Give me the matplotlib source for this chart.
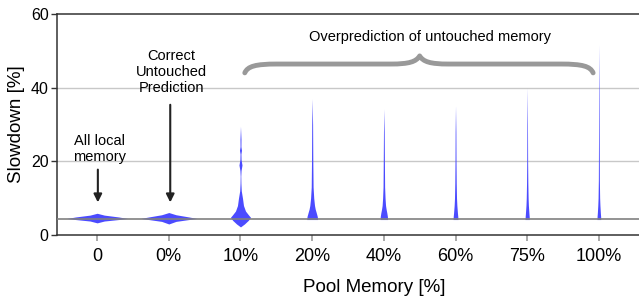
import matplotlib.pyplot as plt
import numpy as np
from matplotlib.path import Path
from matplotlib.patches import PathPatch

plt.rcParams['font.family'] = ['Liberation Sans', 'DejaVu Sans']

categories = ['0', '0%', '10%', '20%', '40%', '60%', '75%', '100%']

# violin outlines: slowdown levels and half widths (x units)
violin_y = [
    [3.3, 3.8, 4.2, 4.5, 4.9, 5.4, 5.9],
    [3.0, 3.7, 4.2, 4.5, 4.9, 5.5, 6.1],
    [2.2, 3.0, 4.0, 4.8, 5.5, 6.5, 8.0, 10.0, 12.0, 14.0, 16.0, 17.5, 19.0, 20.5,
     22.0, 23.0, 24.0, 26.0, 29.5],
    [4.2, 5.0, 6.0, 7.0, 8.0, 10.0, 13.0, 20.0, 30.0, 37.0],
    [4.2, 5.0, 6.0, 7.0, 8.0, 10.0, 13.0, 20.0, 28.0, 34.2],
    [4.2, 5.0, 6.0, 8.0, 10.0, 14.0, 20.0, 28.0, 35.0],
    [4.2, 5.0, 6.0, 8.0, 10.0, 14.0, 20.0, 30.0, 40.0],
    [4.2, 5.0, 6.0, 8.0, 10.0, 15.0, 25.0, 40.0, 51.6],
]
violin_w = [
    [0.0, 0.10, 0.30, 0.42, 0.30, 0.10, 0.0],
    [0.0, 0.10, 0.28, 0.39, 0.28, 0.10, 0.0],
    [0.0, 0.055, 0.11, 0.14, 0.11, 0.07, 0.042, 0.028, 0.011, 0.006, 0.004, 0.008,
     0.021, 0.008, 0.006, 0.014, 0.006, 0.007, 0.0],
    [0.075, 0.072, 0.058, 0.043, 0.033, 0.022, 0.013, 0.009, 0.006, 0.0],
    [0.052, 0.050, 0.042, 0.032, 0.024, 0.017, 0.011, 0.008, 0.005, 0.0],
    [0.034, 0.032, 0.027, 0.019, 0.014, 0.010, 0.007, 0.005, 0.0],
    [0.030, 0.028, 0.024, 0.017, 0.013, 0.009, 0.006, 0.004, 0.0],
    [0.026, 0.025, 0.021, 0.015, 0.011, 0.007, 0.005, 0.003, 0.0],
]
baseline = 4.3

fig = plt.figure(figsize=(6.39, 2.96), dpi=100)
ax = fig.add_axes([0.0892, 0.206, 0.9108, 0.747])

for i in range(len(categories)):
    y = np.array(violin_y[i])
    w = np.array(violin_w[i])
    ax.fill_betweenx(y, i - w, i + w, color='#4b4bff', lw=0, zorder=3)

ax.axhline(baseline, color='#808080', lw=1.2, zorder=4)
for g in [20, 40]:
    ax.axhline(g, color='#c8c8c8', lw=1, zorder=1)

ax.set_xlim(-0.56, 7.56)
ax.set_ylim(0, 60)
ax.set_xticks(range(len(categories)))
ax.set_xticklabels(categories, fontsize=13)
ax.set_yticks([0, 20, 40, 60])
ax.tick_params(axis='y', labelsize=11.5, length=4, width=1, color='#333333', pad=2)
ax.tick_params(axis='x', length=4, width=1.2, color='#999999', pad=5)
for s in ['left', 'bottom', 'top']:
    ax.spines[s].set_color('#333333')
    ax.spines[s].set_linewidth(1.1)
ax.spines['right'].set_visible(False)

ax.set_ylabel('Slowdown [%]', fontsize=13.5, labelpad=4)
ax.set_xlabel('Pool Memory [%]', fontsize=13.5, labelpad=6)
ax.xaxis.set_label_coords(0.545, -0.2)

# annotations
ax.text(0.035, 23.3, 'All local\nmemory', ha='center', va='center', fontsize=10.5, linespacing=1.15)
ax.annotate('', xy=(0.01, 8.1), xytext=(0.01, 18.5),
            arrowprops=dict(arrowstyle='-|>', color='#222222', lw=1.5, mutation_scale=12))
ax.text(1.04, 44.3, 'Correct\nUntouched\nPrediction', ha='center', va='center', fontsize=10.5, linespacing=1.2)
ax.annotate('', xy=(1.02, 8.1), xytext=(1.02, 36.1),
            arrowprops=dict(arrowstyle='-|>', color='#222222', lw=1.5, mutation_scale=12))
ax.text(4.64, 53.8, 'Overprediction of untouched memory', ha='center', va='center', fontsize=10.5)

# curly brace
x0, xm, x1 = 2.06, 4.5, 6.92
yl, yf, yp = 44.0, 46.4, 48.6
verts = [(x0, yl), (x0 + 0.04, yf - 0.6), (x0 + 0.15, yf), (x0 + 0.45, yf),
         (xm - 0.4, yf),
         (xm - 0.15, yf), (xm - 0.05, yf + 0.6), (xm, yp),
         (xm + 0.05, yf + 0.6), (xm + 0.15, yf), (xm + 0.4, yf),
         (x1 - 0.45, yf),
         (x1 - 0.15, yf), (x1 - 0.04, yf - 0.6), (x1, yl)]
codes = [Path.MOVETO, Path.CURVE4, Path.CURVE4, Path.CURVE4,
         Path.LINETO,
         Path.CURVE4, Path.CURVE4, Path.CURVE4,
         Path.CURVE4, Path.CURVE4, Path.CURVE4,
         Path.LINETO,
         Path.CURVE4, Path.CURVE4, Path.CURVE4]
ax.add_patch(PathPatch(Path(verts, codes), fill=False, edgecolor='#999999', lw=3.5,
                       capstyle='round', joinstyle='round', zorder=2))

fig.savefig('out.png', dpi=100)
